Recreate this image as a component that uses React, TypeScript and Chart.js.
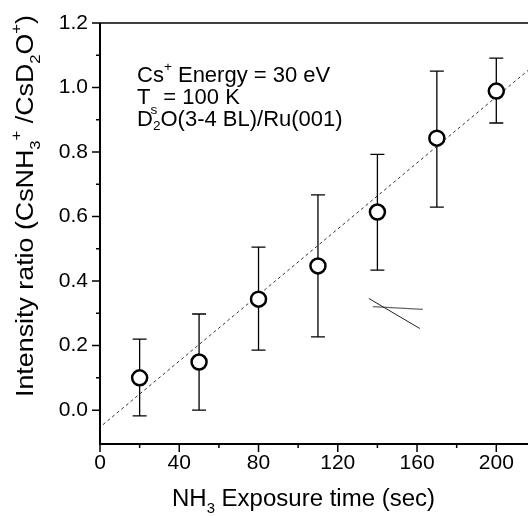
import React, { useEffect, useRef } from "react";
import { Chart, registerables } from "chart.js";

Chart.register(...registerables);

// ---- data ----
const exposureTimes = [20, 50, 80, 110, 140, 170, 200];
const intensityRatio = [0.10, 0.149, 0.344, 0.447, 0.614, 0.843, 0.989];
const errHigh = [0.22, 0.298, 0.505, 0.667, 0.793, 1.051, 1.091];
const errLow = [-0.018, 0.0, 0.186, 0.227, 0.434, 0.629, 0.89];

const fitX = [1.5, 216];
const fitY = [-0.045, 1.053];

// stray marks in the original figure
const strayAX = [135.7, 161.4];
const strayAY = [0.346, 0.253];
const strayBX = [137.7, 162.9];
const strayBY = [0.321, 0.312];

const xMajorTicks = [0, 40, 80, 120, 160, 200];
const xMinorTicks = [20, 60, 100, 140, 180];
const yMajorTicks = [0.0, 0.2, 0.4, 0.6, 0.8, 1.0, 1.2];
const yMinorTicks = [0.1, 0.3, 0.5, 0.7, 0.9, 1.1];

const X_MIN = 0;
const X_MAX = 216;
const Y_MIN = -0.105;
const Y_MAX = 1.2;

type Seg = { t: string; s?: number; dy?: number };

const FAMILY = "'Liberation Sans', Arial, Helvetica, sans-serif";

const yTitle: Seg[] = [
  { t: "Intensity ratio (CsNH" },
  { t: "3", s: 0.62, dy: 0.28 },
  { t: "+", s: 0.62, dy: -0.5 },
  { t: " /CsD" },
  { t: "2", s: 0.62, dy: 0.28 },
  { t: "O" },
  { t: "+", s: 0.62, dy: -0.5 },
  { t: ")" },
];
const xTitle: Seg[] = [
  { t: "NH" },
  { t: "3", s: 0.62, dy: 0.3 },
  { t: " Exposure time (sec)" },
];
const noteLine1: Seg[] = [
  { t: "Cs" },
  { t: "+", s: 0.62, dy: -0.5 },
  { t: " Energy = 30 eV" },
];
const noteLine2: Seg[] = [
  { t: "T" },
  { t: "s", s: 0.62, dy: 0.45 },
  { t: " = 100 K" },
];
const noteLine3: Seg[] = [
  { t: "D" },
  { t: "2", s: 0.62, dy: 0.2 },
  { t: "O(3-4 BL)/Ru(001)" },
];

function drawRich(
  ctx: CanvasRenderingContext2D,
  segs: Seg[],
  x: number,
  y: number,
  size: number,
  targetWidth?: number
) {
  let w = 0;
  for (const sg of segs) {
    ctx.font = `${size * (sg.s || 1)}px ${FAMILY}`;
    w += ctx.measureText(sg.t).width;
  }
  const sx = targetWidth ? targetWidth / w : 1;
  ctx.save();
  ctx.translate(x, y);
  ctx.scale(sx, 1);
  ctx.fillStyle = "#000";
  ctx.textBaseline = "alphabetic";
  ctx.textAlign = "left";
  let cx = 0;
  for (const sg of segs) {
    ctx.font = `${size * (sg.s || 1)}px ${FAMILY}`;
    ctx.fillText(sg.t, cx, (sg.dy || 0) * size);
    cx += ctx.measureText(sg.t).width;
  }
  ctx.restore();
}

const decorPlugin = {
  id: "decor",
  beforeDatasetsDraw(chart: any) {
    const ctx: CanvasRenderingContext2D = chart.ctx;
    const xs = chart.scales.x;
    const ys = chart.scales.y;
    ctx.save();
    ctx.strokeStyle = "#000";
    ctx.lineWidth = 1.3;
    const cap = 7;
    for (let i = 0; i < exposureTimes.length; i++) {
      const px = xs.getPixelForValue(exposureTimes[i]);
      const top = ys.getPixelForValue(errHigh[i]);
      const bot = ys.getPixelForValue(errLow[i]);
      ctx.beginPath();
      ctx.moveTo(px, top);
      ctx.lineTo(px, bot);
      ctx.moveTo(px - cap, top);
      ctx.lineTo(px + cap, top);
      ctx.moveTo(px - cap, bot);
      ctx.lineTo(px + cap, bot);
      ctx.stroke();
    }
    ctx.restore();
  },
  afterDraw(chart: any) {
    const ctx: CanvasRenderingContext2D = chart.ctx;
    const xs = chart.scales.x;
    const ys = chart.scales.y;
    const a = chart.chartArea;
    ctx.save();
    ctx.strokeStyle = "#000";
    // frame
    ctx.lineWidth = 2;
    ctx.beginPath();
    ctx.moveTo(a.left, a.top);
    ctx.lineTo(a.left, a.bottom);
    ctx.lineTo(a.right, a.bottom);
    ctx.stroke();
    ctx.lineWidth = 1.6;
    ctx.beginPath();
    ctx.moveTo(a.left, a.top);
    ctx.lineTo(a.right, a.top);
    ctx.stroke();
    // tick marks
    ctx.lineWidth = 1.5;
    ctx.beginPath();
    for (const v of yMajorTicks) {
      const py = ys.getPixelForValue(v);
      ctx.moveTo(a.left - 8, py);
      ctx.lineTo(a.left, py);
    }
    for (const v of yMinorTicks) {
      const py = ys.getPixelForValue(v);
      ctx.moveTo(a.left - 4, py);
      ctx.lineTo(a.left, py);
    }
    for (const v of xMajorTicks) {
      const px = xs.getPixelForValue(v);
      ctx.moveTo(px, a.bottom);
      ctx.lineTo(px, a.bottom + 8);
    }
    for (const v of xMinorTicks) {
      const px = xs.getPixelForValue(v);
      ctx.moveTo(px, a.bottom);
      ctx.lineTo(px, a.bottom + 4);
    }
    ctx.stroke();
    ctx.restore();

    // annotation
    drawRich(ctx, noteLine1, 137, 82, 22);
    drawRich(ctx, noteLine2, 137, 104, 22);
    drawRich(ctx, noteLine3, 137, 126, 22);

    // axis titles
    drawRich(ctx, xTitle, 172, 506, 23, 263);
    ctx.save();
    ctx.translate(33, 397);
    ctx.rotate(-Math.PI / 2);
    drawRich(ctx, yTitle, 0, 0, 23.5, 382);
    ctx.restore();
  },
};

export default function App() {
  const ref = useRef<HTMLCanvasElement | null>(null);
  useEffect(() => {
    if (!ref.current) return;
    const chart = new Chart(ref.current, {
      type: "scatter",
      data: {
        datasets: [
          {
            label: "data",
            data: exposureTimes.map((x, i) => ({ x, y: intensityRatio[i] })),
            showLine: false,
            pointRadius: 7.5,
            pointHoverRadius: 7.5,
            pointBorderWidth: 2.5,
            pointBackgroundColor: "#fff",
            pointBorderColor: "#000",
            order: 0,
          },
          {
            label: "fit",
            data: fitX.map((x, i) => ({ x, y: fitY[i] })),
            showLine: true,
            pointRadius: 0,
            borderColor: "#333",
            borderWidth: 1,
            borderDash: [3, 3],
            order: 1,
          },
          {
            label: "strayA",
            data: strayAX.map((x, i) => ({ x, y: strayAY[i] })),
            showLine: true,
            pointRadius: 0,
            borderColor: "#222",
            borderWidth: 1,
            order: 2,
          },
          {
            label: "strayB",
            data: strayBX.map((x, i) => ({ x, y: strayBY[i] })),
            showLine: true,
            pointRadius: 0,
            borderColor: "#666",
            borderWidth: 1.2,
            order: 2,
          },
        ],
      },
      options: {
        animation: false,
        responsive: false,
        layout: { autoPadding: false, padding: { top: 23, right: 0, left: 0, bottom: 0 } },
        plugins: { legend: { display: false }, tooltip: { enabled: false } },
        events: [],
        scales: {
          x: {
            type: "linear",
            min: X_MIN,
            max: X_MAX,
            grid: { display: false, drawTicks: false },
            border: { display: false },
            afterBuildTicks: (s: any) => {
              s.ticks = xMajorTicks.map((v) => ({ value: v }));
            },
            afterFit: (s: any) => {
              s.height = 72;
              s.paddingLeft = 0;
              s.paddingRight = 0;
            },
            ticks: {
              color: "#000",
              padding: 7,
              maxRotation: 0,
              autoSkip: false,
              font: { family: FAMILY, size: 21 },
              callback: (v: any) => String(v),
            },
          },
          y: {
            type: "linear",
            min: Y_MIN,
            max: Y_MAX,
            grid: { display: false, drawTicks: false },
            border: { display: false },
            afterBuildTicks: (s: any) => {
              s.ticks = yMajorTicks.map((v) => ({ value: v }));
            },
            afterFit: (s: any) => {
              s.width = 100;
              s.paddingTop = 0;
              s.paddingBottom = 0;
            },
            ticks: {
              color: "#000",
              padding: 12,
              autoSkip: false,
              font: { family: FAMILY, size: 21 },
              callback: (v: any) => Number(v).toFixed(1),
            },
          },
        },
      },
      plugins: [decorPlugin],
    });
    return () => chart.destroy();
  }, []);
  return (
    <div style={{ position: "absolute", left: 0, top: 0, width: 528, height: 516, background: "#fff" }}>
      <canvas ref={ref} width={528} height={516} style={{ display: "block" }} />
    </div>
  );
}
